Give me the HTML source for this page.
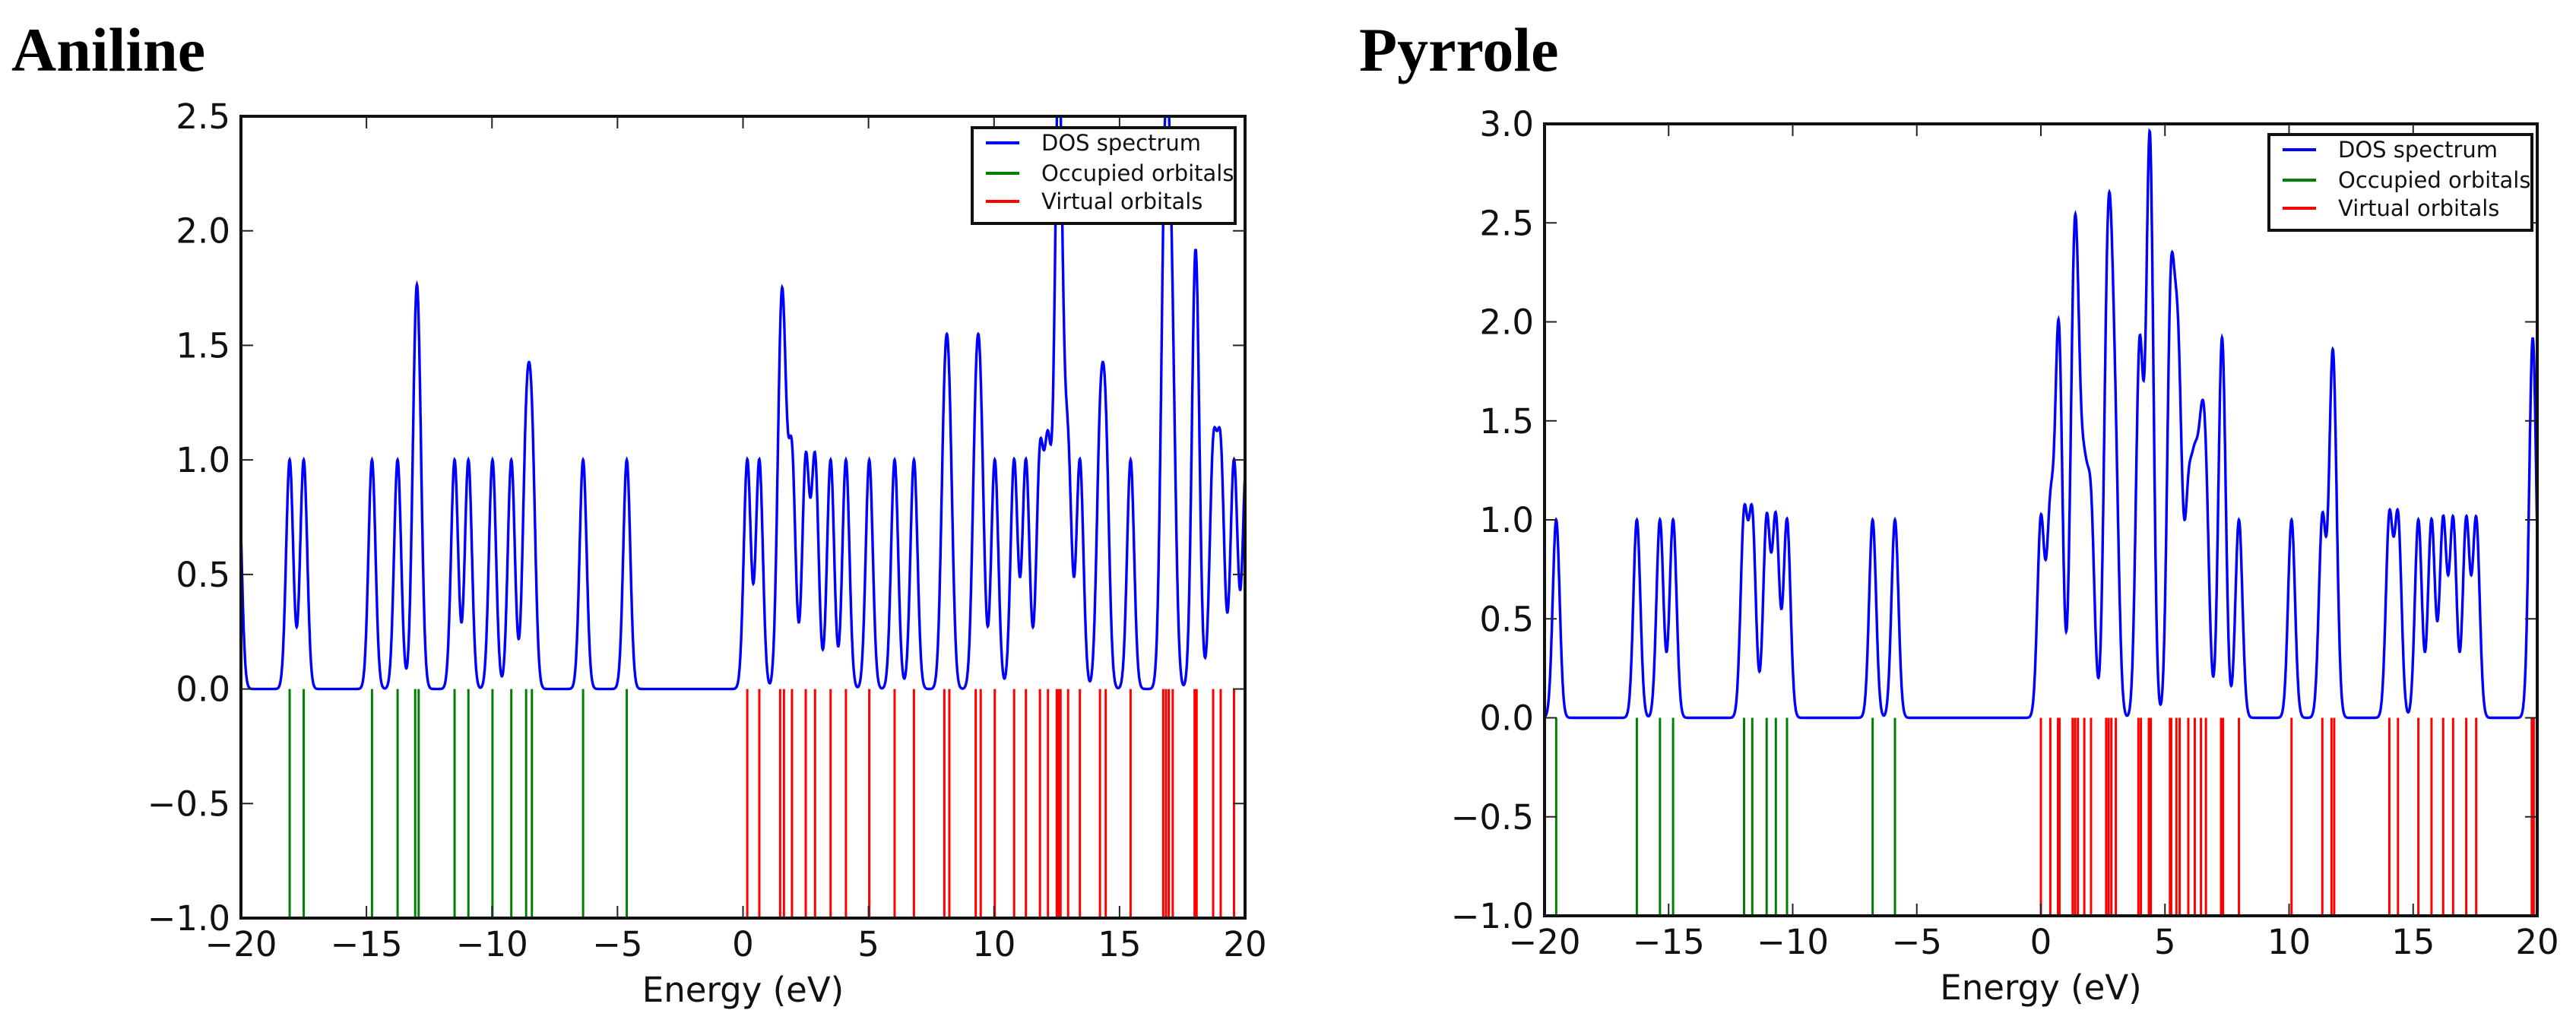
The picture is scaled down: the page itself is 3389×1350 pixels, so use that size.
<!DOCTYPE html>
<html><head><meta charset="utf-8"><style>
html,body{margin:0;padding:0;background:#fff;}
svg{display:block;}
text{font-family:"DejaVu Sans","Liberation Sans",sans-serif;fill:#111;}
.title{font-family:"Liberation Serif",serif;font-weight:bold;fill:#000;}
</style></head><body>
<svg id="fig" width="3389" height="1350" viewBox="0 0 3389 1350" xmlns="http://www.w3.org/2000/svg">
<text class="title" x="15" y="93" font-size="82">Aniline</text>
<text class="title" x="1788" y="93" font-size="82">Pyrrole</text>
</svg>
<script>
// ---- Aniline data (eV) ----
const anilineOccupied = [-20.12,-18.06,-17.50,-14.78,-13.76,-13.06,-12.92,-11.49,-10.94,-9.98,-9.23,-8.64,-8.41,-6.37,-4.63];
const anilineVirtual = [0.17,0.65,1.48,1.63,1.95,2.50,2.87,3.49,4.10,5.03,6.04,6.81,8.02,8.22,9.27,9.47,10.03,10.80,11.27,11.83,12.15,12.50,12.58,12.65,12.95,13.42,14.22,14.45,15.44,16.74,16.85,16.96,17.12,17.99,18.07,18.73,19.03,19.56,20.05];
const anilineYTicks = [-1.0,-0.5,0.0,0.5,1.0,1.5,2.0,2.5];
// ---- Pyrrole data (eV) ----
const pyrroleOccupied = [-19.53,-16.28,-15.35,-14.82,-11.96,-11.63,-11.05,-10.68,-10.23,-6.78,-5.88];
const pyrroleVirtual = [0.00,0.38,0.69,0.75,1.28,1.38,1.49,1.75,2.02,2.63,2.73,2.84,3.02,3.93,4.03,4.35,4.39,4.43,5.20,5.25,5.46,5.59,5.94,6.20,6.45,6.65,7.26,7.34,7.98,10.10,11.34,11.71,11.82,14.04,14.39,15.21,15.74,16.21,16.61,17.14,17.54,19.78,19.86];
const pyrroleYTicks = [-1.0,-0.5,0.0,0.5,1.0,1.5,2.0,2.5,3.0];
const xTicks = [-20,-15,-10,-5,0,5,10,15,20];
const legendLabels = ["DOS spectrum","Occupied orbitals","Virtual orbitals"];
const broadening = 0.14;

const NS="http://www.w3.org/2000/svg";
const svg=document.getElementById('fig');
function mk(tag,attrs,parent){const e=document.createElementNS(NS,tag);for(const k in attrs)e.setAttribute(k,attrs[k]);(parent||svg).appendChild(e);return e;}
function fmt(v){return (v<0?"\u2212":"")+Math.abs(v).toFixed(1);}
function fmtx(v){return (v<0?"\u2212":"")+Math.abs(v);}

function drawPanel(p){
  const sx=e=>p.x0+(e+20)/40*(p.x1-p.x0);
  const sy=v=>p.y1-(v-p.ymin)/(p.ymax-p.ymin)*(p.y1-p.y0);
  const g=mk('g',{});
  
  
  const cp=mk('clipPath',{id:p.name+'-clip'},g);
  mk('rect',{x:p.x0,y:p.y0,width:p.x1-p.x0,height:p.y1-p.y0},cp);
  const pg=mk('g',{'clip-path':'url(#'+p.name+'-clip)'},g);
  p.occ.forEach(e=>{
    const l=mk('line',{x1:sx(e),x2:sx(e),y1:sy(0),y2:sy(-1),stroke:'#008000','stroke-width':3},pg);
    
    
  });
  p.vir.forEach(e=>{
    const l=mk('line',{x1:sx(e),x2:sx(e),y1:sy(0),y2:sy(-1),stroke:'#ff0000','stroke-width':3},pg);
    
    
  });
  const all=p.occ.concat(p.vir);
  let d='';
  for(let e=-20;e<=20.0001;e+=0.01){
    let s=0;all.forEach(o=>{s+=Math.exp(-(e-o)*(e-o)/(2*broadening*broadening));});
    d+=(d?'L':'M')+sx(e).toFixed(1)+','+sy(s).toFixed(1);
  }
  const c=mk('path',{d:d,fill:'none',stroke:'#0000ff','stroke-width':3.4},pg);
  
  
  xTicks.forEach(t=>{
    mk('line',{x1:sx(t),x2:sx(t),y1:p.y1,y2:p.y1-16,stroke:'#222','stroke-width':2},g);
    mk('line',{x1:sx(t),x2:sx(t),y1:p.y0,y2:p.y0+16,stroke:'#222','stroke-width':2},g);
    const tl=mk('text',{x:sx(t),y:p.y1+50,'font-size':45,'text-anchor':'middle'},g);
    tl.textContent=fmtx(t);
    
    
  });
  p.yt.forEach(t=>{
    mk('line',{x1:p.x0,x2:p.x0+16,y1:sy(t),y2:sy(t),stroke:'#222','stroke-width':2},g);
    mk('line',{x1:p.x1,x2:p.x1-16,y1:sy(t),y2:sy(t),stroke:'#222','stroke-width':2},g);
    const tl=mk('text',{x:p.x0-14,y:sy(t)+16,'font-size':45,'text-anchor':'end'},g);
    tl.textContent=fmt(t);
    
    
  });
  const fr=mk('rect',{x:p.x0,y:p.y0,width:p.x1-p.x0,height:p.y1-p.y0,fill:'none',stroke:'#111','stroke-width':4},g);
  
  
  const xl=mk('text',{x:(p.x0+p.x1)/2,y:p.y1+110,'font-size':45,'text-anchor':'middle'},g);
  xl.textContent='Energy (eV)';
  
  
  const lg=mk('g',{},g);
  
  
  mk('rect',{x:p.lx,y:p.ly,width:346,height:126,fill:'#fff',stroke:'#111','stroke-width':4},lg);
  const cols=['#0000ff','#008000','#ff0000'];
  const ys=[20,60,97];
  legendLabels.forEach((lab,i)=>{
    mk('line',{x1:p.lx+18,x2:p.lx+62,y1:p.ly+ys[i],y2:p.ly+ys[i],stroke:cols[i],'stroke-width':4},lg);
    const t=mk('text',{x:p.lx+91,y:p.ly+ys[i]+10,'font-size':29},lg);
    t.textContent=lab;
    
    
  });
}
drawPanel({name:'aniline',x0:317,x1:1638,y0:153,y1:1208,ymin:-1,ymax:2.5,occ:anilineOccupied,vir:anilineVirtual,yt:anilineYTicks,lx:1279,ly:168});
drawPanel({name:'pyrrole',x0:2032,x1:3338,y0:163,y1:1205,ymin:-1,ymax:3,occ:pyrroleOccupied,vir:pyrroleVirtual,yt:pyrroleYTicks,lx:2985,ly:177});
</script>
</body></html>
